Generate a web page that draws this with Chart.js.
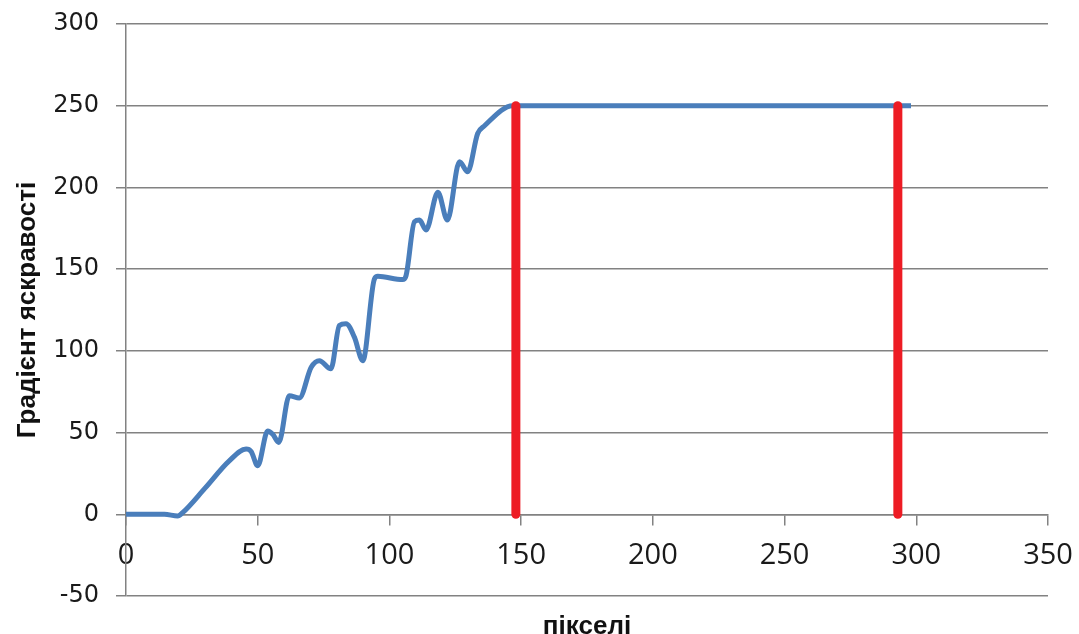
<!DOCTYPE html>
<html>
<head>
<meta charset="utf-8">
<script src="https://cdn.jsdelivr.net/npm/chart.js@4"></script>
<style>
  html, body { margin: 0; padding: 0; background: #fff; }
  #wrap { width: 1079px; height: 634px; position: relative; }
</style>
</head>
<body>
<div id="wrap"><canvas id="grafico"></canvas></div>
<script>
// значення
const pikseli = [0, 14.6, 19.6, 21.5, 30, 39.2, 45.6, 47.5, 50, 53.8, 55.7, 58, 62, 65.8, 70.3, 73.4, 77.8, 81, 83.5, 86.7, 89.9, 94.3, 95.6, 105, 106.3, 109.5, 111.4, 113.9, 118.4, 122, 126.6, 129.7, 133.5, 136, 146.8, 200, 250, 298];
const gradient = [0, 0, -1, 1, 16, 32.7, 39.9, 38.4, 29.7, 51, 49, 44, 72.6, 71.2, 90, 94, 89, 115.5, 116.6, 108.4, 94, 144, 145.6, 143.6, 146, 179, 180, 174, 197, 180, 215.7, 209.6, 233, 237.6, 250, 250, 250, 250];

// червоні межі
const mezhi = [148, 293];
const mezhaVid = 0;
const mezhaDo = 250;

const yTicks = [-50, 0, 50, 100, 150, 200, 250, 300];
const xTicks = [0, 50, 100, 150, 200, 250, 300, 350];

const sire = "#828282";

function liniya(x) {
  return {
    data: [{ x: x, y: mezhaVid }, { x: x, y: mezhaDo }],
    borderColor: "#ED1C24",
    borderWidth: 9,
    borderCapStyle: "round",
    pointRadius: 0,
    order: 1,
  };
}

// прибрати автоматичні відступи під підписи
function bezVidstupiv(s) {
  s.paddingLeft = 0;
  s.paddingRight = 0;
  s.paddingTop = 0;
  s.paddingBottom = 0;
}

const grafico = new Chart(document.getElementById("grafico"), {
  type: "line",
  data: {
    datasets: [
      {
        data: pikseli.map((x, i) => ({ x: x, y: gradient[i] })),
        borderColor: "#4A7EBB",
        borderWidth: 5,
        cubicInterpolationMode: "monotone",
        pointRadius: 0,
        order: 2,
      },
      ...mezhi.map(liniya),
    ],
  },
  options: {
    responsive: true,
    maintainAspectRatio: false,
    animation: false,
    layout: { padding: { left: 0, right: 31, top: 24, bottom: 0 } },
    plugins: { legend: { display: false }, tooltip: { enabled: false } },
    scales: {
      x: {
        type: "linear",
        position: { y: 0 },
        min: xTicks[0],
        max: xTicks[xTicks.length - 1],
        afterBuildTicks: (s) => { s.ticks = xTicks.map((v) => ({ value: v })); },
        afterFit: bezVidstupiv,
        ticks: {
          padding: 14,
          color: "#1a1a1a",
          font: { family: "'Open Sans'", size: 29 },
        },
        grid: { drawOnChartArea: false, drawTicks: true, tickLength: 10, color: sire, lineWidth: 1.5 },
        border: { display: true, color: sire, width: 1.5 },
      },
      x2: {
        type: "linear",
        position: "bottom",
        ticks: { display: false },
        grid: { display: false },
        border: { display: false },
        title: {
          display: true,
          text: "пікселі",
          color: "#111",
          padding: { top: 0, bottom: -8 },
          font: { family: "'Liberation Sans'", size: 26, weight: "bold" },
        },
        afterFit: (s) => { bezVidstupiv(s); s.height = 38; },
      },
      y: {
        position: "left",
        min: yTicks[0],
        max: yTicks[yTicks.length - 1],
        afterBuildTicks: (s) => { s.ticks = yTicks.map((v) => ({ value: v })); },
        ticks: {
          padding: 17,
          color: "#1a1a1a",
          font: { family: "'DejaVu Sans'", size: 24 },
        },
        grid: { color: sire, lineWidth: 1.5, tickLength: 10 },
        border: { display: true, color: sire, width: 1.5 },
        title: {
          display: true,
          text: "Градієнт яскравості",
          color: "#111",
          padding: { top: 12, bottom: 0 },
          font: { family: "'Liberation Sans'", size: 26, weight: "bold" },
        },
        afterFit: (s) => { bezVidstupiv(s); s.width = 126; },
      },
    },
  },
});
</script>
</body>
</html>
